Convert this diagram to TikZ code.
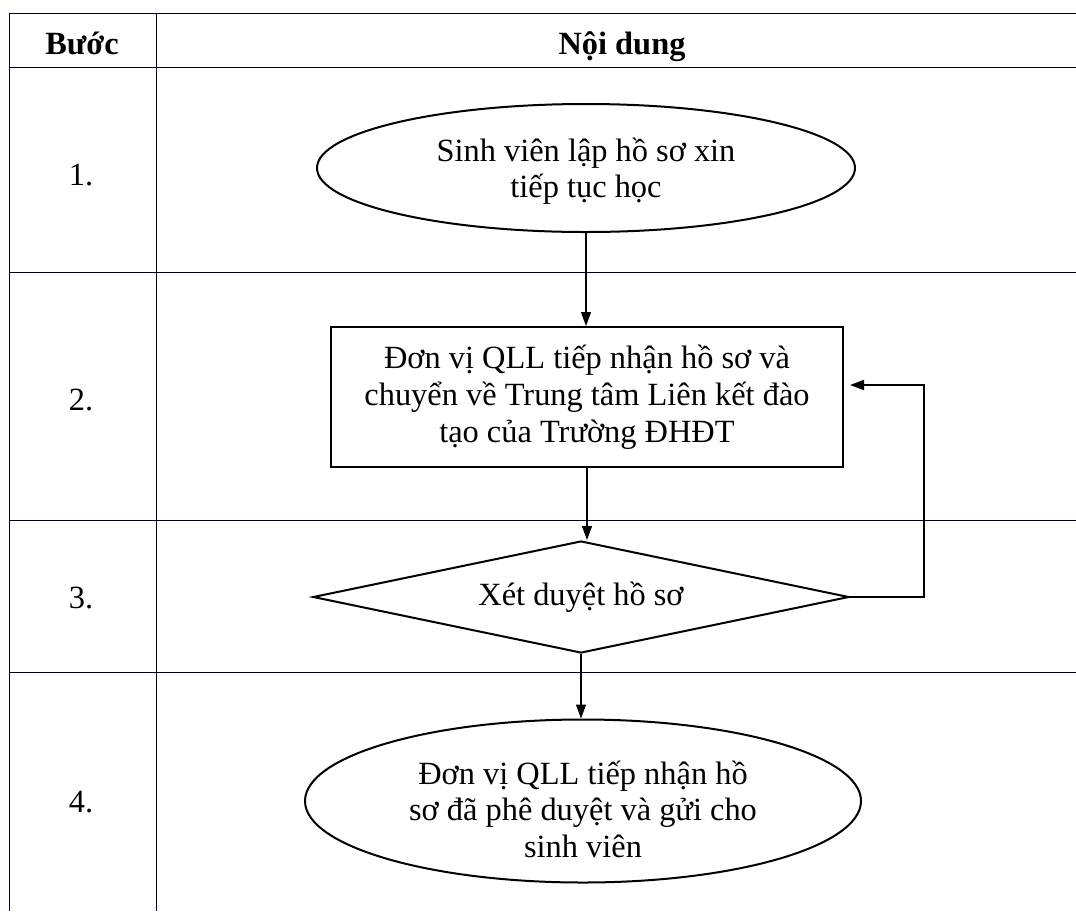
\documentclass[tikz,border=0pt]{standalone}
\usepackage{fontspec}
\setmainfont{Liberation Serif}
\usepackage{tikz}
\usetikzlibrary{shapes.geometric, arrows.meta}

\begin{document}
\begin{tikzpicture}[
    x=0.5pt, y=-0.5pt,
    every node/.style={font=\fontsize{16.2}{18.4}\selectfont},
    grid/.style={line width=0.5pt, draw=black!85!blue},
    header/.style={font=\fontsize{16.2}{18.4}\selectfont\bfseries, anchor=base},
    terminal/.style={ellipse, draw, line width=1pt, align=center, inner sep=0pt},
    process/.style={rectangle, draw, line width=1pt, align=center, minimum width=256pt, minimum height=70pt},
    decision/.style={diamond, draw, line width=1pt, aspect=4.8, minimum width=268pt, minimum height=56pt, inner sep=0pt},
    flow/.style={-{Triangle[length=7pt, width=5pt]}, line width=0.6pt}
  ]
  \useasboundingbox (0,0) rectangle (1076,911);

  % Table
  \foreach \y in {13,67,272,520,672}
    \draw[grid] (9,\y) -- (1076,\y);
  \foreach \x in {9,156}
    \draw[grid] (\x,13) -- (\x,911);

  % Header
  \node[header] (hstep) at (82,54) {Bước};
  \node[header] (hcontent) at (622,54) {Nội dung};

  % Row numbers
  \node (n1) at (81,175) {1.};
  \node (n2) at (81,400) {2.};
  \node (n3) at (81,598) {3.};
  \node (n4) at (81,802) {4.};

  % Flow
  \node[terminal, minimum width=269pt, minimum height=64pt] (start) at (586,168)
    {\rule{0pt}{15pt}Sinh viên lập hồ sơ xin\\tiếp tục học};
  \node[process] (receive) at (587,397)
    {Đơn vị QLL tiếp nhận hồ sơ và\\chuyển về Trung tâm Liên kết đào\\tạo của Trường ĐHĐT};
  \node[decision] (review) at (581,597) {Xét duyệt hồ sơ};
  \node[terminal, minimum width=278pt, minimum height=81.5pt] (finish) at (583,801)
    {\rule{0pt}{20pt}Đơn vị QLL tiếp nhận hồ\\sơ đã phê duyệt và gửi cho\\sinh viên};

  % Connections
  \draw[flow] (start.south) -- (start.south |- receive.north);
  \draw[flow] (receive.south) -- (receive.south |- review.north);
  \draw[flow] (review.south) -- (review.south |- finish.north);
  \draw[flow, line width=1pt, shorten >=3pt] (review.east) -- ++(74,0) |- ([yshift=6pt]receive.east);
\end{tikzpicture}
\end{document}
